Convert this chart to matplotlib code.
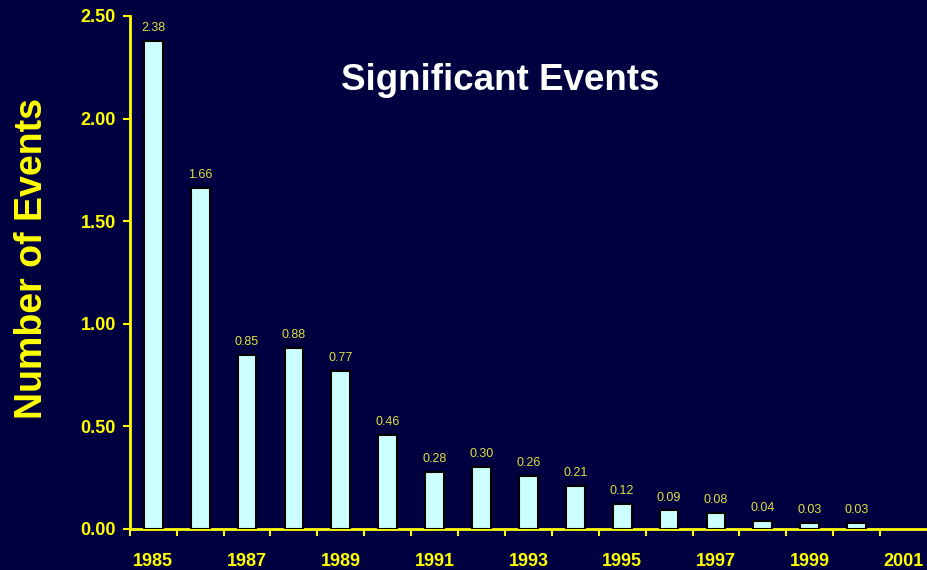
import matplotlib
matplotlib.use("Agg")
import matplotlib.pyplot as plt
import numpy as np

years = ["1985","1986","1987","1988","1989","1990","1991","1992","1993","1994",
         "1995","1996","1997","1998","1999","2000","2001"]
values = [2.38, 1.66, 0.85, 0.88, 0.77, 0.46, 0.28, 0.30, 0.26, 0.21,
          0.12, 0.09, 0.08, 0.04, 0.03, 0.03]
value_labels = ["2.38","1.66","0.85","0.88","0.77","0.46","0.28","0.30","0.26","0.21",
                "0.12","0.09","0.08","0.04","0.03","0.03"]
yticks = [0.0, 0.5, 1.0, 1.5, 2.0, 2.5]
ytick_labels = ["0.00","0.50","1.00","1.50","2.00","2.50"]

plt.rcParams['font.family'] = ['Liberation Sans', 'DejaVu Sans']

BG = '#000040'
YEL = '#FFFF00'

fig = plt.figure(figsize=(9.27, 5.70), dpi=100, facecolor=BG)
ax = fig.add_axes([0.140, 0.072, 0.86, 0.900], facecolor=BG)

x = np.arange(len(values))
ax.bar(x, values, width=0.4, color='#CCFFFF', edgecolor='black', linewidth=1.5, zorder=3)

for xi, v, lab in zip(x, values, value_labels):
    ax.annotate(lab, (xi, v), xytext=(0, 5), textcoords='offset points',
                ha='center', va='bottom', fontsize=9, color='#E0E040')

ax.set_xlim(-0.5, len(years) - 0.5)
ax.set_ylim(0, 2.5)
ax.set_yticks(yticks)
ax.set_yticklabels(ytick_labels)

# tick marks at category boundaries, labels at every other category center
ax.set_xticks(np.arange(-0.5, len(years) - 1, 1.0))
ax.set_xticklabels([])
ax.set_xticks(np.arange(0, len(years), 2), minor=True)
ax.set_xticklabels(years[::2], minor=True)
ax.tick_params(axis='x', which='major', direction='out', length=5, width=1.5, color=YEL)
ax.tick_params(axis='x', which='minor', length=0, pad=17, labelsize=13, labelcolor=YEL)
ax.tick_params(axis='y', direction='out', length=5, width=1.5, color=YEL,
               labelsize=13, labelcolor=YEL, pad=5)
for lab in ax.get_xticklabels(minor=True) + ax.get_yticklabels():
    lab.set_fontweight('bold')

for side in ['top', 'right']:
    ax.spines[side].set_visible(False)
for side in ['left', 'bottom']:
    ax.spines[side].set_color(YEL)
    ax.spines[side].set_linewidth(2)

ax.text(0.465, 0.875, "Significant Events", transform=ax.transAxes, ha='center', va='center',
        fontsize=26.5, fontweight='bold', color='white')

fig.text(0.034, 0.546, "Number of Events", rotation=90, ha='center', va='center',
         fontsize=27, fontweight='bold', color=YEL)

fig.savefig("out.png", dpi=100, facecolor=BG)
